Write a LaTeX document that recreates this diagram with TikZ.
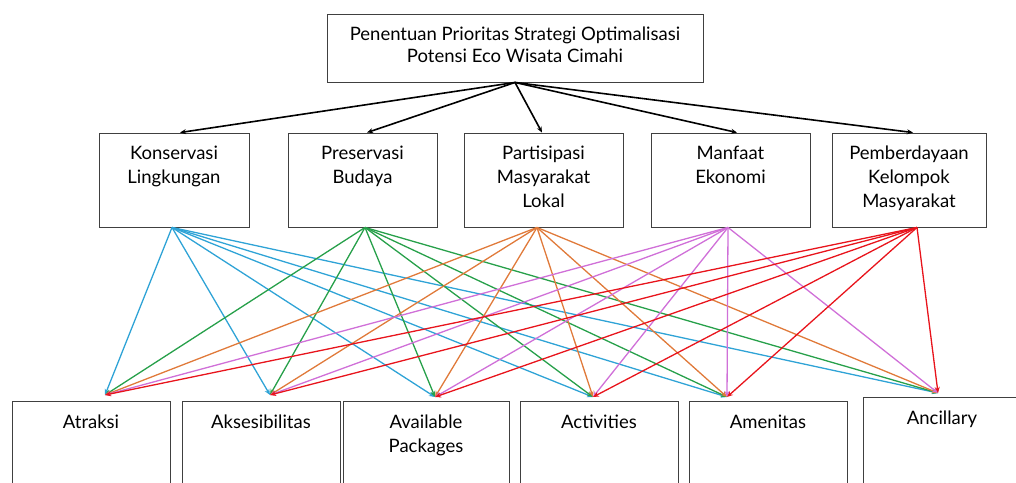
\documentclass[tikz,border=0pt]{standalone}
\usepackage{fontspec}
\setmainfont{Lato}
\usetikzlibrary{arrows.meta,positioning}

\definecolor{cKons}{HTML}{2FA3D6}
\definecolor{cPres}{HTML}{27A04A}
\definecolor{cPart}{HTML}{E07A3A}
\definecolor{cManf}{HTML}{D070D8}
\definecolor{cPemb}{HTML}{E8141C}

\begin{document}
\begin{tikzpicture}[
	x = 1pt, y = -1pt, % pixel grid, y runs down
	> = {Stealth[length=6pt,width=5pt]}, % arrow head style
	font = \fontsize{18.5}{24}\selectfont,
	B/.style={draw=black!75, line width=0.9pt, inner sep=0pt},                 % plain box
	L/.style={align=center, anchor=north, inner sep=0pt, yshift=-13.5pt},      % box text at top
	main/.style={line width=1.6pt, black},
	sub/.style={line width=1.3pt},
	]

	\clip (0,0) rectangle (1016,482);

	% Goal
	\node[B, minimum width=376pt, minimum height=68pt,
		label={[L]north:Penentuan Prioritas Strategi Optimalisasi\\[-2pt]Potensi Eco Wisata Cimahi}] (G) at (515,48) {};

	% Criteria
	% Nodes and their positions
	\node[B, minimum width=150pt, minimum height=94pt, label={[L]north:Konservasi\\Lingkungan}] (K) at (174,180) {};
	\node[B, minimum width=149pt, minimum height=94pt, label={[L]north:Preservasi\\Budaya}] (P) at (362.5,180) {};
	\node[B, minimum width=159pt, minimum height=94pt, label={[L]north:Partisipasi\\Masyarakat\\Lokal}] (Pa) at (543.5,180) {};
	\node[B, minimum width=159pt, minimum height=94pt, label={[L]north:Manfaat\\Ekonomi}] (M) at (730.5,180) {};
	\node[B, minimum width=154pt, minimum height=94pt, label={[L]north:Pemberdayaan\\Kelompok\\Masyarakat}] (Pb) at (909,180) {};

	% Alternatives
	\node[B, minimum width=158pt, minimum height=100pt, anchor=north, label={[L]north:Atraksi}] (A) at (91,401) {};
	\node[B, minimum width=158pt, minimum height=100pt, anchor=north, label={[L]north:Aksesibilitas}] (Ak) at (261,401) {};
	\node[B, minimum width=166pt, minimum height=100pt, anchor=north, label={[L]north:Available\\Packages}] (Av) at (426,401) {};
	\node[B, minimum width=158pt, minimum height=100pt, anchor=north, label={[L]north:Activities}] (Ac) at (599,401) {};
	\node[B, minimum width=158pt, minimum height=100pt, anchor=north, label={[L]north:Amenitas}] (Am) at (768,401) {};
	\node[B, minimum width=158pt, minimum height=100pt, anchor=north, label={[L]north:Ancillary}] (An) at (942,397) {};

	% Line ends
	\coordinate (sK)  at ([xshift=-2pt]K.south);
	\coordinate (sP)  at ([xshift=2.5pt]P.south);
	\coordinate (sPa) at ([xshift=-6.5pt]Pa.south);
	\coordinate (sM)  at ([xshift=-2.5pt]M.south);
	\coordinate (sPb) at ([xshift=8pt]Pb.south);
	\coordinate (tA)  at ([xshift=14pt,yshift=6pt]A.north);
	\coordinate (tAk) at ([xshift=9pt,yshift=6pt]Ak.north);
	\coordinate (tAv) at ([xshift=9pt,yshift=4pt]Av.north);
	\coordinate (tAc) at ([xshift=-6pt,yshift=4pt]Ac.north);
	\coordinate (tAm) at ([xshift=-41pt,yshift=4pt]Am.north);
	\coordinate (tAn) at ([xshift=-4pt,yshift=4pt]An.north);

	% Paths connecting goal and criteria
	\draw[main, ->] (G.south) -- ([xshift=6pt]K.north);
	\draw[main, ->] (G.south) -- ([xshift=4.5pt]P.north);
	\draw[main, ->] (G.south) -- ([xshift=-1.5pt]Pa.north);
	\draw[main, ->] (G.south) -- ([xshift=6.5pt]M.north);
	\draw[main, ->] (G.south) -- ([xshift=4pt]Pb.north);

	% Paths connecting criteria and alternatives
	\foreach \t in {tA,tAk,tAv,tAc,tAm,tAn}
		\draw[sub, ->, cKons] (sK) -- (\t);
	\foreach \t in {tA,tAk,tAv,tAc,tAm,tAn}
		\draw[sub, ->, cPres] (sP) -- (\t);
	\foreach \t in {tA,tAk,tAv,tAc,tAm,tAn}
		\draw[sub, ->, cPart] (sPa) -- (\t);
	\foreach \t in {tA,tAk,tAv,tAc,tAm,tAn}
		\draw[sub, ->, cManf] (sM) -- (\t);
	\foreach \t in {tA,tAk,tAv,tAc,tAm,tAn}
		\draw[sub, ->, cPemb] (sPb) -- (\t);

\end{tikzpicture}
\end{document}
